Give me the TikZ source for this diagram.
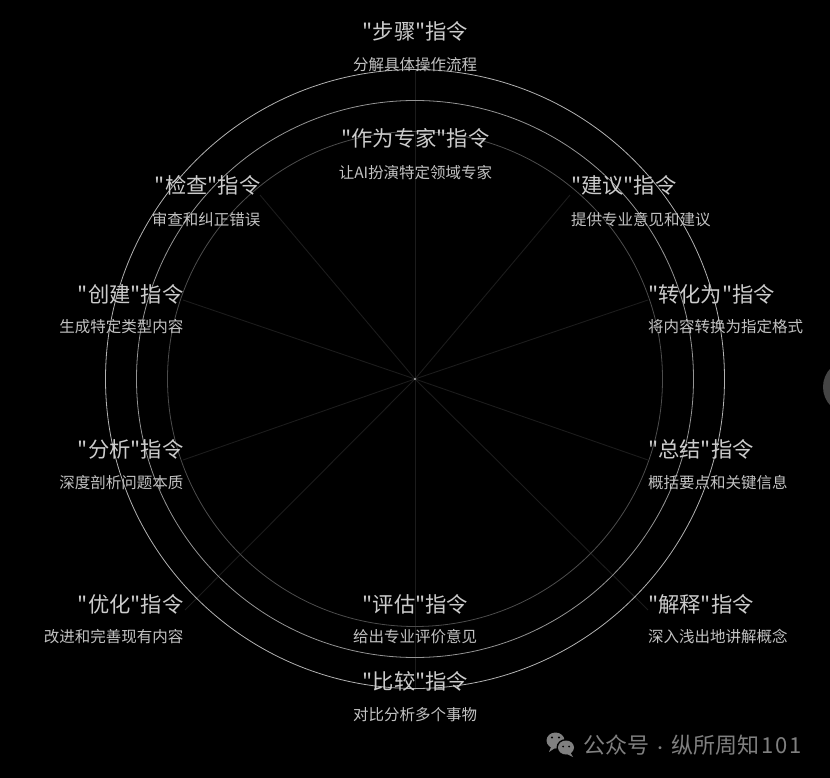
\documentclass[tikz,border=0pt]{standalone}
\usepackage{fontspec}
\newfontfamily\cjk{Noto Sans CJK SC}
\definecolor{bgc}{gray}{0}
\definecolor{ttl}{gray}{0.80}
\definecolor{subc}{gray}{0.76}
\definecolor{ring1}{gray}{0.70}
\definecolor{ring2}{gray}{0.58}
\definecolor{ring3}{gray}{0.30}
\definecolor{spk}{gray}{0.11}
\definecolor{wm}{gray}{0.50}
\definecolor{knob}{gray}{0.27}
\tikzset{
  x=1pt,y=-1pt,
  ttlc/.style={text=ttl,inner sep=0pt,font=\cjk\fontsize{21.3}{25}\selectfont},
  subt/.style={text=subc,inner sep=0pt,font=\cjk\fontsize{15.5}{18}\selectfont},
  spoke/.style={draw=spk,line width=0.9pt},
  ring/.style={line width=0.8pt},
}
\begin{document}
\begin{tikzpicture}
\useasboundingbox (0,0) rectangle (830,778);
\fill[bgc] (0,0) rectangle (830,778);
\fill[knob] (850,387) circle (27);
\coordinate (c) at (415,379);
\foreach \n/\x/\y in {e1/415/70,e2/570/195,e3/648/300,e4/648/460,e5/648/610,e6/415/690,e7/185/610,e8/183/460,e9/183/300,e10/260/195}{
  \coordinate (\n) at (\x,\y);
  \draw[spoke] (c) -- (\n);
}
\fill[gray!60] (c) circle (1.2);
\draw[ring,draw=ring1] (c) circle (309.5);
\draw[ring,draw=ring2] (c) circle (278.5);
\draw[ring,draw=ring3] (c) circle (247.5);
% centred
\node[ttlc] (t1) at (415.5,31.5) {"步骤"指令};
\node[subt] (s1) at (415,64.5) {分解具体操作流程};
\node[ttlc] (t2) at (415.5,138.5) {"作为专家"指令};
\node[subt] (s2) at (415.5,172.5) {让AI扮演特定领域专家};
\node[ttlc] (t3) at (415.5,604.5) {"评估"指令};
\node[subt] (s3) at (415,636.5) {给出专业评价意见};
\node[ttlc] (t4) at (415.5,681.5) {"比较"指令};
\node[subt] (s4) at (415,714.5) {对比分析多个事物};
% right side
\node[ttlc,anchor=west] (t5) at (571,185.5) {"建议"指令};
\node[subt,anchor=west] (s5) at (571,219.5) {提供专业意见和建议};
\node[ttlc,anchor=west] (t6) at (648,294.5) {"转化为"指令};
\node[subt,anchor=west] (s6) at (648,326.5) {将内容转换为指定格式};
\node[ttlc,anchor=west] (t7) at (648,449.5) {"总结"指令};
\node[subt,anchor=west] (s7) at (648,482.5) {概括要点和关键信息};
\node[ttlc,anchor=west] (t8) at (648,604.5) {"解释"指令};
\node[subt,anchor=west] (s8) at (648,636.5) {深入浅出地讲解概念};
% left side
\node[ttlc,anchor=east] (t9) at (260.5,185.5) {"检查"指令};
\node[subt,anchor=east] (s9) at (260.5,219.5) {审查和纠正错误};
\node[ttlc,anchor=east] (t10) at (183.5,294.5) {"创建"指令};
\node[subt,anchor=east] (s10) at (183.5,326.5) {生成特定类型内容};
\node[ttlc,anchor=east] (t11) at (183.5,449.5) {"分析"指令};
\node[subt,anchor=east] (s11) at (183.5,482.5) {深度剖析问题本质};
\node[ttlc,anchor=east] (t12) at (183.5,604.5) {"优化"指令};
\node[subt,anchor=east] (s12) at (183.5,636.5) {改进和完善现有内容};
% watermark
\fill[wm] (555.5,740.5) ellipse (9 and 8);
\fill[wm] (551,747) -- (549,752) -- (555,748) -- cycle;
\fill[black] (566,747.5) ellipse (9.5 and 8.5);
\fill[wm] (566,747.5) ellipse (8 and 7);
\fill[wm] (570,752) -- (573,757) -- (565,753) -- cycle;
\fill[black] (552,737.5) circle (1.1) (559,737.5) circle (1.1) (563,746.5) circle (1) (569,746.5) circle (1);
\node[anchor=west,inner sep=0pt,text=wm,font=\cjk\fontsize{22}{26}\selectfont] (w) at (583,745.5) {公众号\hspace{4pt}{\fontsize{14}{16}\selectfont ·}\hspace{4pt}纵所周知\hspace{2pt}1\hspace{2pt}0\hspace{2pt}1};
\end{tikzpicture}
\end{document}
